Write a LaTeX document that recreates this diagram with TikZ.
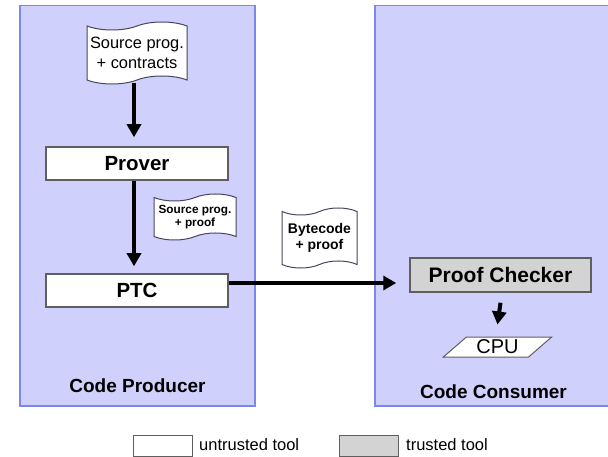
\documentclass[tikz,border=0pt]{standalone}
\usepackage{fontspec}
\setmainfont{Liberation Sans}
\usetikzlibrary{shapes.symbols,shapes.geometric,arrows.meta}
\definecolor{panelfill}{RGB}{208,208,252}
\definecolor{paneldraw}{RGB}{125,135,235}
\definecolor{boxdraw}{RGB}{95,95,95}
\definecolor{docdraw}{RGB}{70,70,95}
\definecolor{trustfill}{RGB}{211,211,211}
\begin{document}
\begin{tikzpicture}[x=1pt,y=-1pt,
 panel/.style={draw=paneldraw, fill=panelfill, line width=1.5pt},
 toolbox/.style={draw=boxdraw, line width=1.5pt, minimum width=182pt, minimum height=33pt, inner sep=0pt, font=\bfseries\fontsize{20.5}{24}\selectfont},
 untrusted/.style={toolbox, fill=white},
 trusted/.style={toolbox, fill=trustfill},
 doc/.style={tape, draw=docdraw, fill=white, line width=1pt, tape bend height=8pt, inner sep=0pt, align=center},
 arr/.style={line width=4pt, -{Triangle[width=14pt,length=13pt]}},
 paneltitle/.style={font=\bfseries\fontsize{19}{22}\selectfont, inner sep=0pt},
 legbox/.style={draw=boxdraw, line width=1pt, minimum width=59pt, minimum height=21pt, inner sep=0pt},
 legtext/.style={anchor=west, font=\fontsize{16.5}{18}\selectfont, inner sep=0pt}
]
\useasboundingbox (0,0) rectangle (608,457);
\path[panel] (20,5.5) rectangle (255,406);
\path[panel] (375,5.5) rectangle (614,406);

\node[doc, minimum width=100pt, minimum height=62pt, font=\fontsize{16.4}{20}\selectfont] (src) at (137,53) {Source prog.\\+ contracts};
\node[untrusted] (prover) at (137,163.5) {Prover};
\node[doc, tape bend height=7pt, minimum width=82pt, minimum height=46pt, font=\bfseries\fontsize{11.8}{13}\selectfont] (srcpf) at (195,217) {Source prog.\\+ proof};
\node[untrusted] (ptc) at (137,290.5) {PTC};
\node[doc, tape bend height=7pt, minimum width=75pt, minimum height=60pt, font=\bfseries\fontsize{14}{16}\selectfont] (bc) at (319.5,238) {Bytecode\\+ proof};
\node[trusted, minimum width=181pt, minimum height=34pt, font=\bfseries\fontsize{21}{24}\selectfont] (pc) at (500.5,275) {Proof Checker};
\node[trapezium, trapezium left angle=42, trapezium right angle=138, trapezium stretches=true, draw=boxdraw, fill=white, line width=1pt, minimum width=109pt, minimum height=20pt, inner sep=0pt, font=\fontsize{20}{20}\selectfont] (cpu) at (497.5,347) {CPU};

\node[paneltitle] (prodlbl) at (137.5,386) {Code Producer};
\node[paneltitle] (conslbl) at (493.5,392) {Code Consumer};

\node[legbox, fill=white] (legu) at (162.5,445.5) {};
\node[legtext] (legut) at (199,445) {untrusted tool};
\node[legbox, fill=trustfill] (legt) at (368.5,445.5) {};
\node[legtext] (legtt) at (406,445) {trusted tool};

\draw[arr, shorten <=3pt, shorten >=9pt] ([xshift=-3pt]src.south) -- ([xshift=-3pt]prover.north);
\draw[arr, shorten >=7pt] ([xshift=-3pt]prover.south) -- ([xshift=-3pt]ptc.north);
\draw[arr] ([yshift=7.5pt]ptc.east) -- ([yshift=-8pt, xshift=-13pt]pc.west);
\draw[arr] ([yshift=-10pt]pc.south) -- ([yshift=12pt]cpu.north);
\end{tikzpicture}
\end{document}
